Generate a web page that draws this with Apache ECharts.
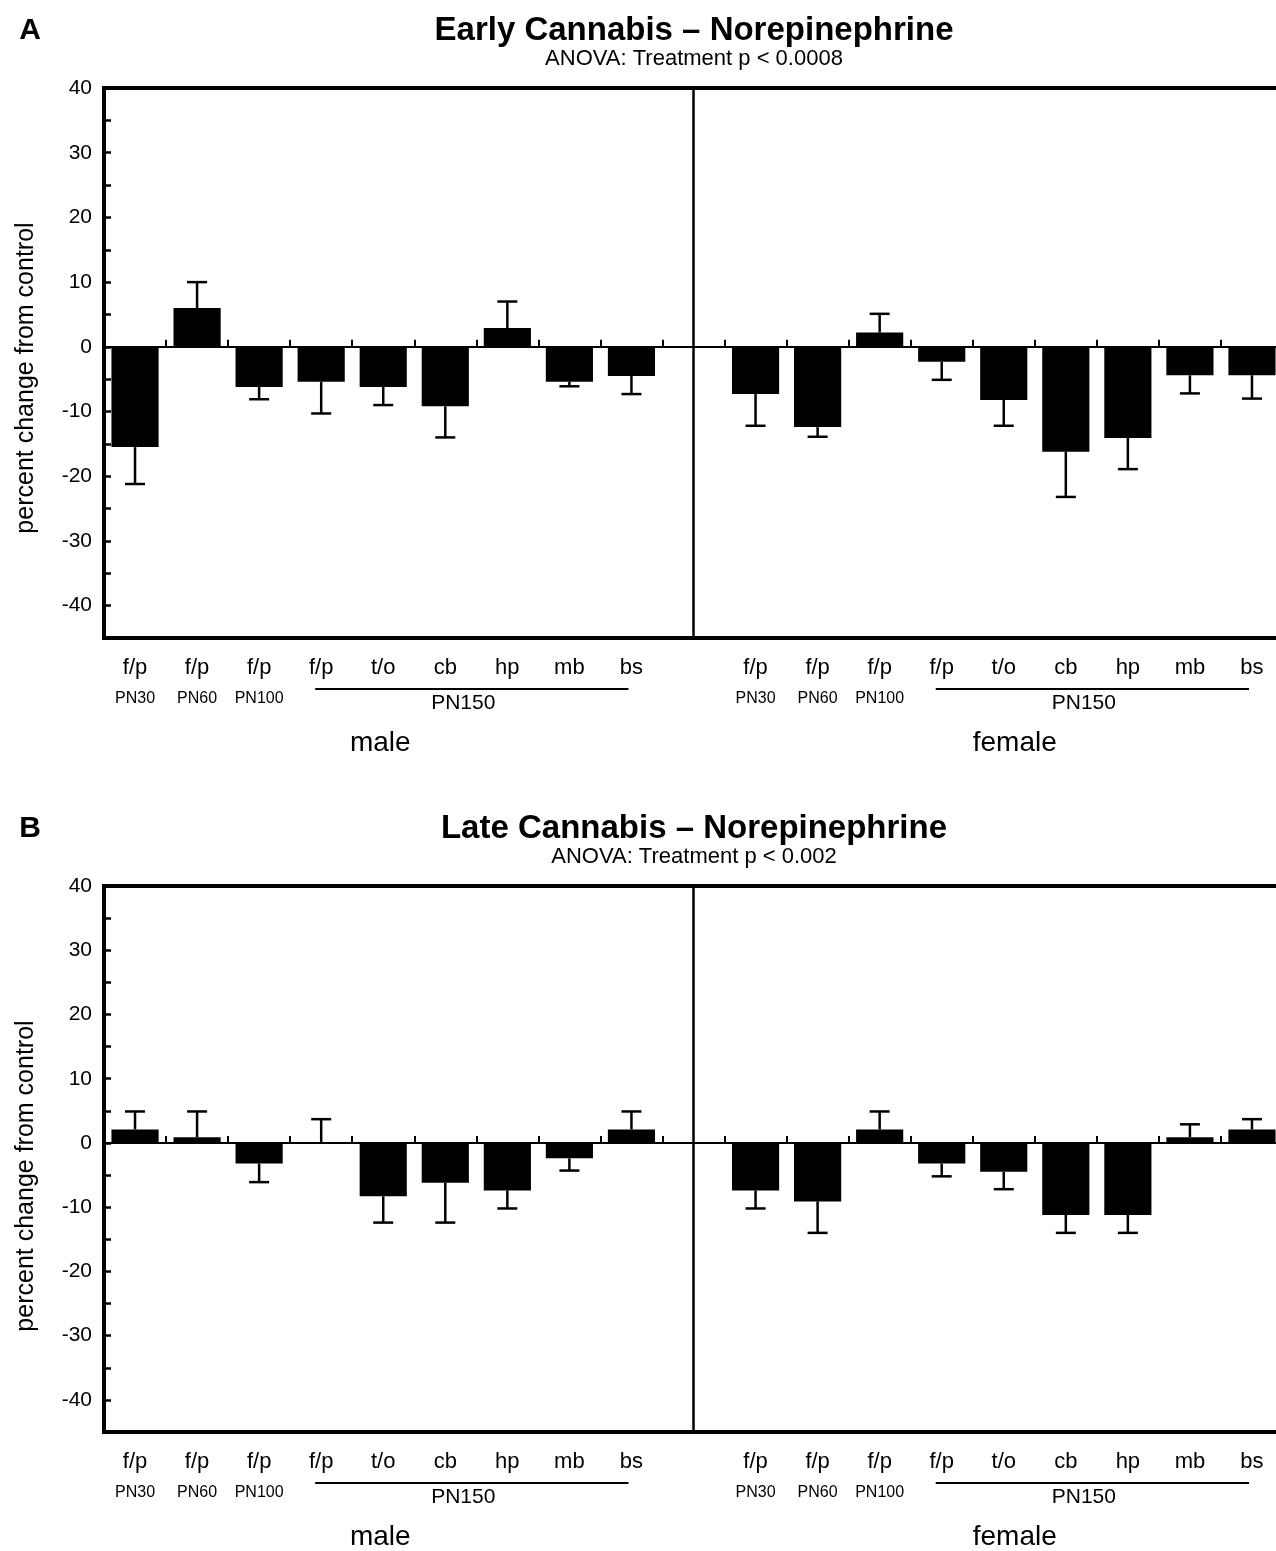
<!DOCTYPE html>
<html>
<head>
<meta charset="utf-8">
<script src="https://cdn.jsdelivr.net/npm/echarts@6/dist/echarts.min.js"></script>
<style>
html,body{margin:0;padding:0;background:#fff;overflow:hidden;width:1276px;height:1551px;}
#chart{width:1290px;height:1551px;}
</style>
</head>
<body>
<div id="chart"></div>
<script>
// ---------- data ----------
const categories = ['m_fp30','m_fp60','m_fp100','m_fp150','m_to','m_cb','m_hp','m_mb','m_bs','gap',
                    'f_fp30','f_fp60','f_fp100','f_fp150','f_to','f_cb','f_hp','f_mb','f_bs'];
const regionLabels = ['f/p','f/p','f/p','f/p','t/o','cb','hp','mb','bs','',
                      'f/p','f/p','f/p','f/p','t/o','cb','hp','mb','bs'];
const ageLabels = ['PN30','PN60','PN100','','','','','','','',
                   'PN30','PN60','PN100','','','','','',''];
const groupLabel = 'PN150';
const sexLabels = ['male','female'];
const yTickLabels = [40,30,20,10,0,-10,-20,-30,-40];
const yAxisTitle = 'percent change from control';
const panelLetters = ['A','B'];
const panelTitles = ['Early Cannabis – Norepinephrine','Late Cannabis – Norepinephrine'];
const panelSubtitles = ['ANOVA: Treatment p < 0.0008','ANOVA: Treatment p < 0.002'];

const earlyMale      = [-15.5, 6.0, -6.2, -5.4, -6.2, -9.2, 2.9, -5.4, -4.5];
const earlyMaleSem   = [5.7, 4.0, 1.9, 4.9, 2.8, 4.8, 4.1, 0.7, 2.8];
const earlyFemale    = [-7.3, -12.4, 2.2, -2.3, -8.2, -16.2, -14.1, -4.4, -4.4];
const earlyFemaleSem = [4.9, 1.5, 2.9, 2.8, 4.0, 7.0, 4.8, 2.8, 3.6];
const lateMale       = [2.1, 0.9, -3.2, 0, -8.3, -6.2, -7.4, -2.4, 2.1];
const lateMaleSem    = [2.8, 4.0, 2.9, 3.7, 4.1, 6.2, 2.8, 1.9, 2.8];
const lateFemale     = [-7.4, -9.1, 2.1, -3.2, -4.5, -11.2, -11.2, 0.9, 2.1];
const lateFemaleSem  = [2.8, 4.9, 2.8, 2.0, 2.7, 2.8, 2.8, 2.0, 1.6];

// ---------- build ----------
const FONT = '"Liberation Sans", Arial, Helvetica, sans-serif';
const chart = echarts.init(document.getElementById('chart'), null, {renderer:'canvas'});

function combine(m, f){ return m.concat([null], f); }
const panels = [
  {vals: combine(earlyMale, earlyFemale), sem: combine(earlyMaleSem, earlyFemaleSem)},
  {vals: combine(lateMale, lateFemale), sem: combine(lateMaleSem, lateFemaleSem)}
];
const grids = [
  {left:104, top:88, width:1179, height:550},
  {left:104, top:886, width:1179, height:546}
];

function errRender(params, api){
  const x = api.value(0), v = api.value(1), e = api.value(2);
  if (v === null || isNaN(v)) return;
  const end = v >= 0 ? v + e : v - e;
  const p0 = api.coord([x, v]);
  const p1 = api.coord([x, end]);
  const st = {stroke:'#000', lineWidth:2.5};
  return {type:'group', children:[
    {type:'line', shape:{x1:p0[0], y1:p0[1], x2:p1[0], y2:p1[1]}, style:st},
    {type:'line', shape:{x1:p1[0]-10, y1:p1[1], x2:p1[0]+10, y2:p1[1]}, style:st}
  ]};
}

const option = {
  animation:false,
  backgroundColor:'#fff',
  textStyle:{fontFamily:FONT, color:'#000'},
  grid: grids.map(g => Object.assign({show:true, borderColor:'#000', borderWidth:4, backgroundColor:'transparent', containLabel:false}, g)),
  xAxis: grids.map((g,i) => ({
    type:'category', gridIndex:i, data:categories, boundaryGap:true,
    axisLine:{show:false},
    axisTick:{show:true, inside:true, length:7, interval:0, lineStyle:{color:'#000', width:2}},
    axisLabel:{
      interval:0, margin:18, color:'#000', fontFamily:FONT,
      formatter:(val, idx) => {
        const r = regionLabels[idx], a = ageLabels[idx];
        if (!r) return '';
        return a ? '{r|' + r + '}\n{a|' + a + '}' : '{r|' + r + '}';
      },
      rich:{
        r:{fontSize:22, lineHeight:24, color:'#000', fontFamily:FONT},
        a:{fontSize:16, lineHeight:38, color:'#000', fontFamily:FONT}
      }
    },
    splitLine:{show:false}
  })),
  yAxis: grids.map((g,i) => ({
    type:'value', gridIndex:i, min:-45, max:40, interval:5,
    axisLine:{show:false},
    axisTick:{show:true, inside:true, length:7, lineStyle:{color:'#000', width:2.5}},
    axisLabel:{margin:12, fontSize:21, color:'#000', fontFamily:FONT,
      formatter: v => yTickLabels.indexOf(v) >= 0 ? String(v) : ''},
    splitLine:{show:false}
  })),
  series: []
};

panels.forEach((p, i) => {
  option.series.push({
    type:'bar', xAxisIndex:i, yAxisIndex:i, data:p.vals,
    barWidth:'76%', itemStyle:{color:'#000'},
    markLine:{
      silent:true, symbol:'none', label:{show:false}, animation:false,
      data:[
        {yAxis:0, lineStyle:{color:'#000', width:2, type:'solid'}},
        {xAxis:'gap', lineStyle:{color:'#000', width:2.5, type:'solid'}}
      ]
    }
  });
  option.series.push({
    type:'custom', xAxisIndex:i, yAxisIndex:i,
    data: p.vals.map((v, k) => [k, v, p.sem[k]]).filter(d => d[1] !== null),
    encode:{x:0, y:1},
    renderItem: errRender,
    z:3
  });
});

chart.setOption(option);

// ---------- annotation texts placed with axis coordinates ----------
const graphics = [];
function cx(i, k){ return chart.convertToPixel({xAxisIndex:i}, categories[k]); }
function txt(x, y, text, font, rot){
  return {type:'text', x:x, y:y, rotation: rot || 0, silent:true, z:10,
    style:{text:text, font:font, fill:'#000', textAlign:'center', textVerticalAlign:'middle', align:'center', verticalAlign:'middle'}};
}
panels.forEach((p, i) => {
  const g = grids[i];
  const axisY = g.top + g.height;
  graphics.push(txt(30, g.top - 57, panelLetters[i], 'bold 30px ' + FONT));
  graphics.push(txt(694, g.top - 57, panelTitles[i], 'bold 33px ' + FONT));
  graphics.push(txt(694, g.top - 29, panelSubtitles[i], '22px ' + FONT));
  graphics.push(txt(26, g.top + 290, yAxisTitle, '25px ' + FONT, Math.PI/2));
  [[3,8,5,4,0],[13,18,15,14,1]].forEach(([a, b, mid, sexIdx, s]) => {
    const x1 = cx(i, a) - 6, x2 = cx(i, b) - 3;
    graphics.push({type:'line', silent:true, z:10,
      shape:{x1:x1, y1:axisY + 51, x2:x2, y2:axisY + 51},
      style:{stroke:'#000', lineWidth:2}});
    graphics.push(txt(cx(i, mid) + 18, axisY + 65, groupLabel, '21px ' + FONT));
    graphics.push(txt(cx(i, sexIdx) + (s === 0 ? -3 : 11), axisY + 105, sexLabels[s], '28px ' + FONT));
  });
});
chart.setOption({graphic: graphics});
</script>
</body>
</html>
